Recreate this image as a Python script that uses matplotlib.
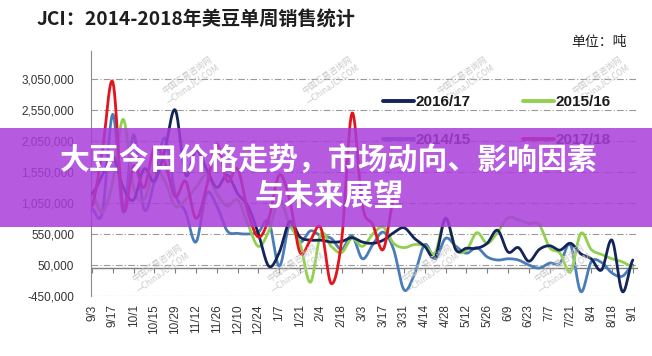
import numpy as np
import matplotlib.pyplot as plt
from matplotlib.patches import Rectangle

plt.rcParams['font.family'] = ['Noto Sans CJK SC', 'DejaVu Sans']

# 周度标签（每两周一个）
tick_labels = ['9/3', '9/17', '10/1', '10/15', '10/29', '11/12', '11/26', '12/10', '12/24',
               '1/7', '1/21', '2/4', '2/18', '3/3', '3/17', '3/31', '4/14', '4/28',
               '5/12', '5/26', '6/9', '6/23', '7/7', '7/21', '8/4', '8/18', '9/1']

# 单周销售（千吨）
sales_1617 = [1200, 1500, 1800, 1300, 1100, 1600, 1400, 1900, 2550, 1500, 1900, 1600, 1300,
              1500, 1200, 1000, 550, 30, 250, 750, 500, 450, 450, 420, 430, 490, 420, 400,
              450, 570, 650, 480, 350, 180, 800, 290, 320, 320, 400, 610, 260, 330, 110,
              300, 360, 290, 400, 230, 150, -30, 450, -380, 130]
sales_1516 = [1200, 900, 1400, 2400, 1300, 1100, 1600, 1400, 1000, 1100, 1300, 1500, 1200,
              1000, 1100, 700, 350, 600, 1100, 700, 400, -230, 550, 350, 250, 480, 350, 550,
              660, 400, 330, 380, 360, 250, 810, 300, 290, 570, 400, 580, 810, 780, 720,
              700, 330, 240, -60, 560, 300, 220, 150, 100, 20]
sales_1415 = [950, 900, 2480, 900, 2150, 950, 1400, 2100, 1200, 900, 420, 1200, 1000,
              600, 560, 550, 580, 750, 30, 700, 420, 600, 520, 480, 300, 520, 150, 380,
              580, 300, -350, -100, 380, 150, 480, 350, 240, 330, 180, 130, 150, 130, 50,
              0, 80, 80, 380, -380, 100, 90, -80, -130, 50]
sales_1718 = [1000, 1900, 3000, 950, 1650, 1300, 1950, 1700, 1150, 1400, 800, 1300, 2000,
              1400, 1600, 900, 500, 800, 1500, 1100, 250, 450, 650, -250, 450, 2500, 1000,
              700, 300, 1100]

series = [('2014/15', sales_1415, '#4A7DB8'),
          ('2015/16', sales_1516, '#92D050'),
          ('2016/17', sales_1617, '#13245A'),
          ('2017/18', sales_1718, '#E3141B')]


def smooth(ys, n=12):
    # Excel 平滑线效果（Catmull-Rom）
    ys = np.asarray(ys, dtype=float)
    xs = np.arange(len(ys), dtype=float)
    p = np.concatenate([[ys[0]], ys, [ys[-1]]])
    px, py = [], []
    t = np.linspace(0, 1, n, endpoint=False)
    for i in range(len(ys) - 1):
        p0, p1, p2, p3 = p[i], p[i + 1], p[i + 2], p[i + 3]
        yy = 0.5 * (2 * p1 + (-p0 + p2) * t + (2 * p0 - 5 * p1 + 4 * p2 - p3) * t ** 2
                    + (-p0 + 3 * p1 - 3 * p2 + p3) * t ** 3)
        px.extend(xs[i] + t)
        py.extend(yy)
    px.append(xs[-1])
    py.append(ys[-1])
    return np.array(px), np.array(py)


fig = plt.figure(figsize=(6.52, 3.56), dpi=100)
ax = fig.add_axes([91 / 652, 1 - 296 / 356, (638 - 91) / 652, (296 - 51) / 356])

yticks = [-450, 50, 550, 1050, 1550, 2050, 2550, 3050]
for yv in yticks:
    ax.axhline(yv, color='#9A9A9A', lw=0.8, ls=(0, (6, 2, 1, 2)), zorder=1)
ax.axhline(0, color='#7F7F7F', lw=1.0, zorder=1)
tick_pos = np.arange(0, 53, 2)
ax.vlines(tick_pos, -80, 0, color='#7F7F7F', lw=0.8, zorder=1)

handles = {}
for name, vals, col in series:
    sx, sy = smooth(vals)
    h, = ax.plot(sx, sy, color=col, lw=2.0, solid_capstyle='round', zorder=3, label=name)
    handles[name] = h

ax.set_xlim(-0.1, 52.5)
ax.set_ylim(-450, 3500)
ax.set_yticks(yticks)
ax.set_yticklabels(['{:,}'.format(v * 1000) for v in yticks], fontsize=8.5, color='#333333',
                   family=['Liberation Sans', 'DejaVu Sans'])
ax.set_xticks(tick_pos)
ax.set_xticklabels(tick_labels, rotation=90, fontsize=8.5, color='#333333',
                   family=['Liberation Sans', 'DejaVu Sans'], va='top')
ax.tick_params(axis='both', length=0)
ax.tick_params(axis='y', pad=12)
ax.tick_params(axis='x', pad=6)
for s in ['top', 'right', 'bottom']:
    ax.spines[s].set_visible(False)
ax.spines['left'].set_color('#8C8C8C')
ax.set_facecolor('none')

# 水印
wm_pos = [(190, 80), (330, 80), (465, 80), (600, 80),
          (160, 268), (295, 268), (430, 268), (562, 268)]
for wx, wy in wm_pos:
    fig.text(wx / 652, 1 - wy / 356, '中国汇易咨询网\n—ChinaJCI.COM', fontsize=6, color='#CACACA',
             rotation=35, ha='center', va='center', linespacing=1.3, zorder=0)

leg = fig.legend([handles['2016/17'], handles['2014/15'], handles['2015/16'], handles['2017/18']],
                 ['2016/17', '2014/15', '2015/16', '2017/18'], ncol=2, frameon=False,
                 loc='upper left', bbox_to_anchor=(383 / 652, 1 - 95 / 356),
                 prop={'family': ['Liberation Sans', 'DejaVu Sans'], 'weight': 'bold', 'size': 11},
                 handlelength=2.0, handletextpad=0.15, labelspacing=1.6, columnspacing=3.4,
                 borderpad=0, borderaxespad=0)
for t in leg.get_texts():
    t.set_color('#1A1A1A')
for l in leg.get_lines():
    l.set_linewidth(2.8)

fig.text(37 / 652, 1 - 20 / 356, 'JCI：2014-2018年美豆单周销售统计', fontsize=13.8,
         fontweight='bold', color='#1E1E1E', va='center', ha='left')
fig.text(627 / 652, 1 - 42 / 356, '单位：吨', fontsize=10, color='#222222',
         va='center', ha='right')

# 紫色标题横幅
fig.patches.append(Rectangle((0, 1 - 227 / 356), 1, 99 / 356, transform=fig.transFigure,
                             facecolor='#A93DDB', alpha=0.85, edgecolor='none', zorder=10))
fig.text(0.505, 1 - 161 / 356, '大豆今日价格走势，市场动向、影响因素', fontsize=21.5,
         fontweight='bold', color='white', ha='center', va='center', zorder=11)
fig.text(0.505, 1 - 196 / 356, '与未来展望', fontsize=21.5,
         fontweight='bold', color='white', ha='center', va='center', zorder=11)

fig.savefig('out.png', dpi=100)
